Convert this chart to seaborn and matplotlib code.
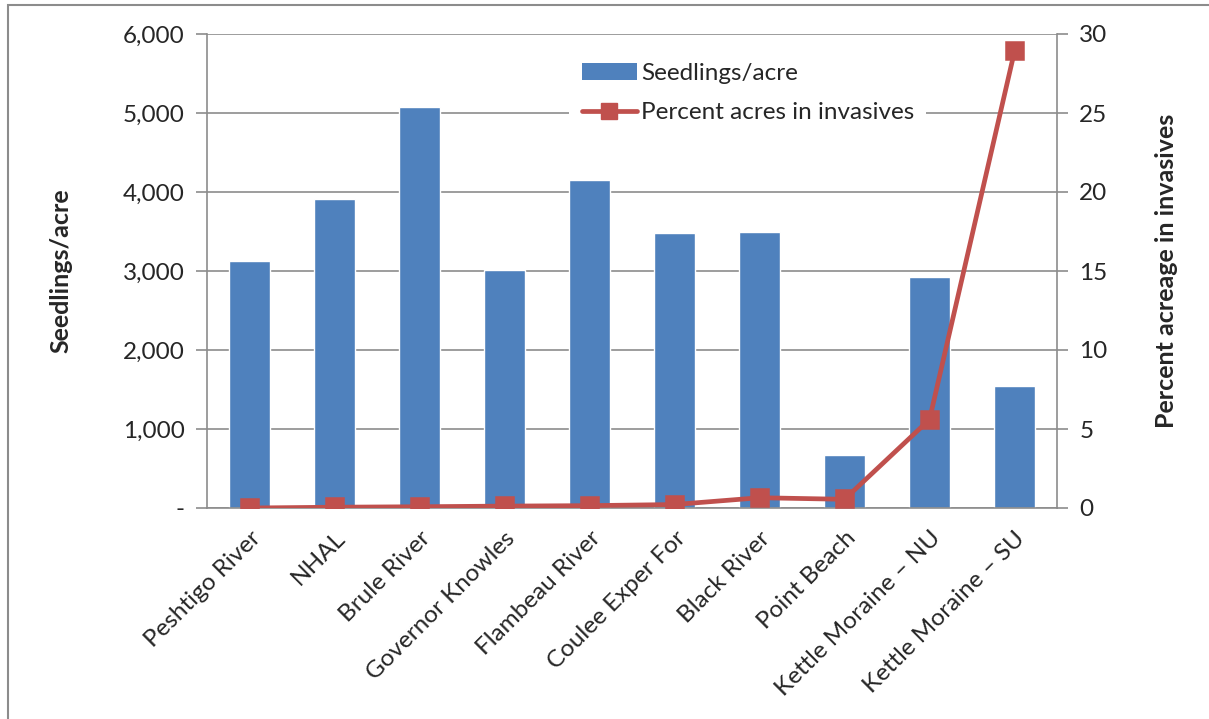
import numpy as np
import pandas as pd
import matplotlib
matplotlib.use('Agg')
import matplotlib.pyplot as plt
from matplotlib.ticker import FuncFormatter, MultipleLocator, FixedLocator
from matplotlib.patches import Rectangle
from matplotlib.lines import Line2D
import seaborn as sns

sns.set_style('white')
plt.rcParams['font.family'] = ['Lato', 'DejaVu Sans']

sites = ['Peshtigo River', 'NHAL', 'Brule River', 'Governor Knowles',
         'Flambeau River', 'Coulee Exper For', 'Black River', 'Point Beach',
         'Kettle Moraine \u2013 NU', 'Kettle Moraine \u2013 SU']
seedlings = [3130, 3910, 5080, 3010, 4150, 3480, 3500, 670, 2925, 1545]
pct_invasive = [0.0, 0.05, 0.08, 0.12, 0.15, 0.22, 0.65, 0.55, 5.6, 28.9]

bar_color = '#4F81BD'
line_color = '#C0504D'
grid_color = '#8C8C8C'

df = pd.DataFrame({'Site': sites, 'Seedlings': seedlings, 'Pct': pct_invasive})

fig = plt.figure(figsize=(12.09, 7.19), dpi=100)
ax = fig.add_axes([207/1209, 1-508/719, (1057-207)/1209, (508-34)/719])

sns.barplot(data=df, x='Site', y='Seedlings', color=bar_color, width=0.48,
            saturation=1, ax=ax, zorder=2)
ax.set_ylim(0, 6000)
ax.set_xlim(-0.5, len(sites)-0.5)
ax.yaxis.set_major_locator(MultipleLocator(1000))
ax.yaxis.set_major_formatter(FuncFormatter(lambda v, p: '-' if v == 0 else f'{int(v):,}'))
ax.grid(axis='y', color=grid_color, lw=1.2, zorder=0)
ax.set_axisbelow(True)
ax.set_xlabel('')
ax.set_ylabel('Seedlings/acre', fontsize=18, fontweight='bold', labelpad=36)

ax.xaxis.set_major_locator(FixedLocator(np.arange(len(sites))))
ax.set_xticklabels(sites, rotation=45, ha='right', rotation_mode='anchor', fontsize=17.5)
ax.tick_params(axis='x', length=0, pad=14)
# category boundary ticks
ax.xaxis.set_minor_locator(FixedLocator(np.arange(-0.5, len(sites), 1.0)))
ax.tick_params(axis='x', which='minor', length=8, width=1.2, color=grid_color, direction='out')
ax.tick_params(axis='y', length=8, width=1.2, color=grid_color, direction='out', labelsize=17.5, pad=8)

for side in ['left', 'right', 'bottom']:
    ax.spines[side].set_color(grid_color)
    ax.spines[side].set_linewidth(1.2)
ax.spines['top'].set_visible(False)

ax2 = ax.twinx()
sns.pointplot(data=df, x='Site', y='Pct', color=line_color, marker='s',
              markersize=11.5, linewidth=3.4, ax=ax2, zorder=3)
ax2.set_ylim(0, 30)
ax2.set_xlim(-0.5, len(sites)-0.5)
ax2.yaxis.set_major_locator(MultipleLocator(5))
ax2.set_ylabel('Percent acreage in invasives', fontsize=18, fontweight='bold', labelpad=34)
ax2.tick_params(axis='y', length=8, width=1.2, color=grid_color, direction='out', labelsize=17.5, pad=8)
ax2.tick_params(axis='x', length=0)
for side in ['left', 'right', 'bottom', 'top']:
    ax2.spines[side].set_visible(False)

handles = [
    Rectangle((0, 0), 1, 1, facecolor=bar_color, edgecolor='none'),
    Line2D([], [], color=line_color, lw=3.4, marker='s', markersize=11.5),
]
leg = ax2.legend(handles, ['Seedlings/acre', 'Percent acres in invasives'],
                 loc='upper left', bbox_to_anchor=(0.412, 0.99), frameon=True,
                 fontsize=17.5, handlelength=2.3, handletextpad=0.15,
                 labelspacing=0.75, borderpad=0.5)
leg.get_frame().set_facecolor('white')
leg.get_frame().set_edgecolor('none')
leg.get_frame().set_alpha(1)

# outer chart border
fig.patches.append(Rectangle((8/1209, -0.05), 1.2, 1 - 5/719 + 0.05,
                             transform=fig.transFigure, fill=False,
                             edgecolor='#8C8C8C', lw=1.5))

fig.savefig('out.png', dpi=100)
